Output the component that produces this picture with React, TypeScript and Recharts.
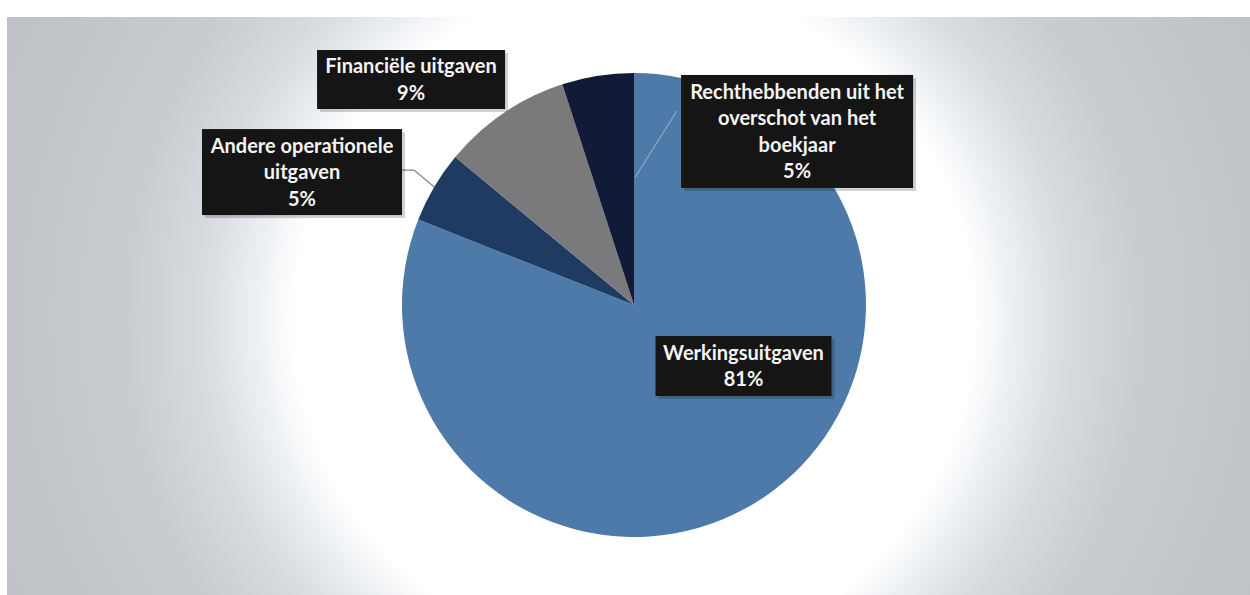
import { PieChart, Pie, Cell } from "recharts";

const categories = [
  "Werkingsuitgaven",
  "Andere operationele uitgaven",
  "Financiële uitgaven",
  "Rechthebbenden uit het overschot van het boekjaar",
];
const shares = [81, 5, 9, 5];
// hoe Excel de labels had afgebroken
const labelLines = [
  ["Werkingsuitgaven"],
  ["Andere operationele", "uitgaven"],
  ["Financiële uitgaven"],
  ["Rechthebbenden uit het", "overschot van het", "boekjaar"],
];
const colors = ["#4d7aa8", "#1f3b62", "#7a7a7c", "#111a36"];

const data = categories.map((name, i) => ({ name, value: shares[i] }));

// label box placement, in units of the pie radius from the centre
const boxes = [
  { dx: 0.472, dy: 0.263, w: 176, h: 60 },
  { dx: -1.431, dy: -0.573, w: 200, h: 86 },
  { dx: -0.961, dy: -0.972, w: 188, h: 59 },
  { dx: 0.703, dy: -0.748, w: 232, h: 113 },
];

const RAD = Math.PI / 180;
const LINE_H = 26.5;

function renderLabel(props: any) {
  const { cx, cy, outerRadius, midAngle, index, percent } = props;
  const b = boxes[index];
  const bx = cx + b.dx * outerRadius;
  const by = cy + b.dy * outerRadius;
  const lines = [...labelLines[index], `${Math.round(percent * 100)}%`];
  const top = by - ((lines.length - 1) * LINE_H) / 2;

  let leader = null;
  if (index === 1) {
    const ax = cx + outerRadius * Math.cos(-midAngle * RAD);
    const ay = cy + outerRadius * Math.sin(-midAngle * RAD);
    const ex = bx + b.w / 2;
    leader = (
      <polyline
        points={`${ax},${ay} ${ex + 12},${by - 2} ${ex},${by - 2}`}
        fill="none"
        stroke="#7d8790"
        strokeWidth={1.3}
      />
    );
  } else if (index === 3) {
    leader = (
      <line
        x1={cx + 1}
        y1={cy - 0.55 * outerRadius}
        x2={bx - b.w / 2 - 4}
        y2={by - 0.09 * outerRadius}
        stroke="#86a6c6"
        strokeWidth={1.2}
      />
    );
  }

  return (
    <g key={`lbl-${index}`}>
      {leader}
      <rect
        x={bx - b.w / 2 + 3}
        y={by - b.h / 2 + 3}
        width={b.w}
        height={b.h}
        fill="#000"
        opacity={0.18}
      />
      <rect x={bx - b.w / 2} y={by - b.h / 2} width={b.w} height={b.h} fill="#151515" />
      <text
        x={bx}
        textAnchor="middle"
        fill="#f4f4f4"
        fontFamily="Lato, 'Open Sans', sans-serif"
        fontWeight={700}
        fontSize={20}
      >
        {lines.map((t, i) => (
          <tspan key={i} x={bx} y={top + i * LINE_H} dy="0.35em">
            {t}
          </tspan>
        ))}
      </text>
    </g>
  );
}

export default function App() {
  return (
    <div style={{ position: "absolute", left: 0, top: 0, width: 1250, height: 595, background: "#fff" }}>
      <div
        style={{
          position: "absolute",
          left: 7,
          top: 17,
          width: 1243,
          height: 578,
          background:
            "radial-gradient(circle 720px at 627px 303px, #ffffff 0px, #ffffff 340px, #eef1f4 375px, #dadee3 425px, #c9cdd2 505px, #bcc0c5 720px)",
        }}
      />
      <div style={{ position: "absolute", left: 0, top: 0 }}>
        <PieChart width={1250} height={595} margin={{ top: 0, right: 0, bottom: 0, left: 0 }}>
          <Pie
            data={data}
            dataKey="value"
            nameKey="name"
            cx={634}
            cy={305}
            outerRadius={232}
            startAngle={90}
            endAngle={-270}
            stroke="none"
            label={renderLabel}
            labelLine={false}
            isAnimationActive={false}
          >
            {data.map((d, i) => (
              <Cell key={d.name} fill={colors[i]} />
            ))}
          </Pie>
        </PieChart>
      </div>
    </div>
  );
}
